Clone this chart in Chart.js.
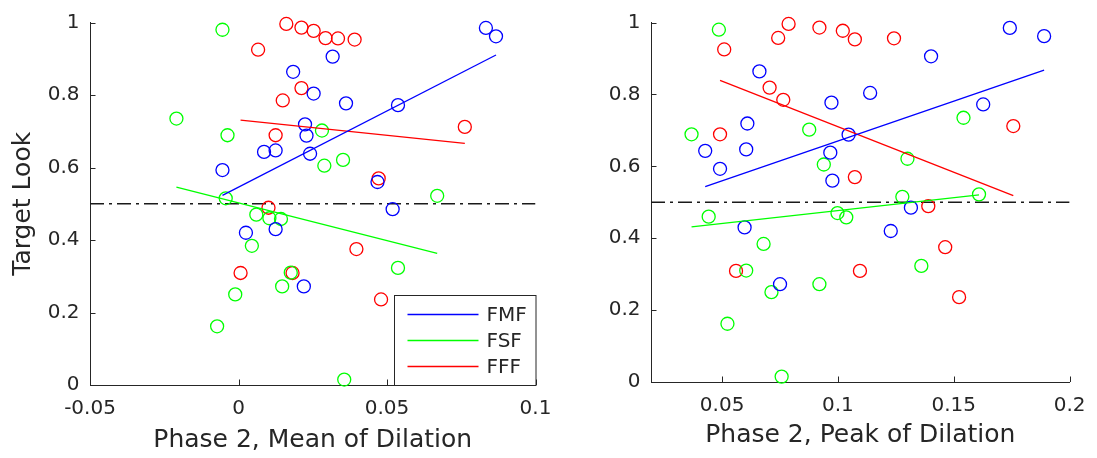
<!DOCTYPE html>
<html>
<head>
<meta charset="utf-8">
<script src="https://cdn.jsdelivr.net/npm/chart.js@4.4.1/dist/chart.umd.min.js"></script>
<style>
  html, body { margin: 0; padding: 0; background: #ffffff; }
  #wrap { position: relative; width: 1097px; height: 458px; overflow: hidden; background: #ffffff; }
  #meanChart { position: absolute; left: 0; top: 0; }
  #peakChart { position: absolute; left: 600px; top: 0; }
</style>
</head>
<body>
<div id="wrap">
  <canvas id="meanChart" width="600" height="458"></canvas>
  <canvas id="peakChart" width="497" height="458"></canvas>
</div>
<script>
// Groups, in legend order
const groupNames = ['FMF', 'FSF', 'FFF'];
const groupColors = ['#0000ff', '#00ff00', '#ff0000'];

// FMF subjects: target look, mean dilation, peak dilation (phase 2)
const fmfLook = [0.985, 0.962, 0.906, 0.864, 0.804, 0.777, 0.772, 0.719, 0.688, 0.643, 0.647, 0.638, 0.593, 0.560, 0.485, 0.430, 0.420, 0.272];
const fmfMean = [0.0833, 0.0867, 0.0317, 0.0184, 0.0253, 0.0362, 0.0537, 0.0224, 0.0229, 0.0086, 0.0125, 0.0241, -0.0054, 0.0468, 0.0519, 0.0125, 0.0025, 0.0220];
const fmfPeak = [0.1742, 0.1890, 0.1402, 0.0661, 0.1139, 0.0972, 0.1627, 0.0609, 0.1046, 0.0427, 0.0604, 0.0967, 0.0491, 0.0976, 0.1315, 0.0597, 0.1228, 0.0750];

// FSF subjects
const fsfLook = [0.980, 0.735, 0.689, 0.702, 0.605, 0.621, 0.522, 0.515, 0.470, 0.460, 0.458, 0.384, 0.310, 0.272, 0.250, 0.162, 0.323, 0.015];
const fsfMean = [-0.0054, -0.0209, -0.0037, 0.0281, 0.0289, 0.0352, 0.0669, -0.0043, 0.0060, 0.0104, 0.0143, 0.0045, 0.0176, 0.0147, -0.0011, -0.0072, 0.0537, 0.0356];
const fsfPeak = [0.0486, 0.1542, 0.0368, 0.0876, 0.0939, 0.1300, 0.1609, 0.1278, 0.0998, 0.0442, 0.1036, 0.0679, 0.0604, 0.0920, 0.0713, 0.0523, 0.1360, 0.0757];

// FFF subjects
const fffLook = [0.996, 0.986, 0.977, 0.957, 0.956, 0.953, 0.925, 0.819, 0.785, 0.689, 0.712, 0.570, 0.489, 0.375, 0.309, 0.309, 0.236];
const fffMean = [0.0161, 0.0212, 0.0253, 0.0293, 0.0335, 0.0391, 0.0066, 0.0212, 0.0149, 0.0125, 0.0762, 0.0472, 0.0101, 0.0397, 0.0007, 0.0182, 0.0480];
const fffPeak = [0.0787, 0.0920, 0.1021, 0.0742, 0.1242, 0.1073, 0.0509, 0.0705, 0.0764, 0.0491, 0.1757, 0.1073, 0.1390, 0.1463, 0.0560, 0.1095, 0.1523];

// Axis ticks and limits
const lookTicks = [0, 0.2, 0.4, 0.6, 0.8, 1];
const meanTicks = [-0.05, 0, 0.05, 0.1];
const peakTicks = [0.05, 0.1, 0.15, 0.2];
const lookRange = [0, 1];
const meanRange = [-0.05, 0.1];
const peakRange = [0.0193, 0.2];
const chanceLevel = 0.5;

const looks = [fmfLook, fsfLook, fffLook];
const axisInk = '#262626';
const fontFamily = "'DejaVu Sans', 'Liberation Sans', sans-serif";
Chart.defaults.font.family = fontFamily;
Chart.defaults.color = axisInk;

function toPoints(xs, ys) {
  return xs.map((x, i) => ({ x: x, y: ys[i] }));
}

// Least-squares line over the x extent of a group
function fitLine(xs, ys) {
  const n = xs.length;
  const mx = xs.reduce((a, b) => a + b, 0) / n;
  const my = ys.reduce((a, b) => a + b, 0) / n;
  let sxy = 0, sxx = 0;
  for (let i = 0; i < n; i++) {
    sxy += (xs[i] - mx) * (ys[i] - my);
    sxx += (xs[i] - mx) * (xs[i] - mx);
  }
  const slope = sxy / sxx;
  const x0 = Math.min(...xs), x1 = Math.max(...xs);
  return [{ x: x0, y: my + slope * (x0 - mx) }, { x: x1, y: my + slope * (x1 - mx) }];
}

function fmt(v) {
  return String(Number(v.toFixed(4)));
}

// Inward tick marks and the boxed key
const axisDecor = {
  id: 'axisDecor',
  afterDraw(chart, args, opts) {
    const ctx = chart.ctx;
    const area = chart.chartArea;
    const xs = chart.scales.x, ys = chart.scales.y;
    ctx.save();
    ctx.strokeStyle = axisInk;
    ctx.lineWidth = 1;
    ctx.beginPath();
    xs.ticks.forEach(t => {
      const p = Math.round(xs.getPixelForValue(t.value)) + 0.5;
      ctx.moveTo(p, area.bottom);
      ctx.lineTo(p, area.bottom - 5.5);
    });
    ys.ticks.forEach(t => {
      const p = Math.round(ys.getPixelForValue(t.value)) + 0.5;
      ctx.moveTo(area.left, p);
      ctx.lineTo(area.left + 5.5, p);
    });
    ctx.stroke();

    if (opts.key) {
      const w = 141.5, h = 90;
      const bx = Math.round(area.right - w) + 0.5;
      const by = Math.round(area.bottom - h) + 0.5;
      ctx.fillStyle = '#ffffff';
      ctx.fillRect(bx, by, w, h);
      ctx.strokeStyle = axisInk;
      ctx.lineWidth = 1;
      ctx.strokeRect(bx, by, w, h);
      const entries = chart.data.datasets.filter(d => d.inKey);
      ctx.font = '20px ' + fontFamily;
      ctx.textBaseline = 'middle';
      ctx.textAlign = 'left';
      entries.forEach((d, i) => {
        const ry = by + 19 + i * 26;
        ctx.strokeStyle = d.borderColor;
        ctx.lineWidth = 1.3;
        ctx.beginPath();
        ctx.moveTo(bx + 13, ry);
        ctx.lineTo(bx + 84, ry);
        ctx.stroke();
        ctx.fillStyle = axisInk;
        ctx.fillText(d.label, bx + 92, ry + 1);
      });
    }
    ctx.restore();
  }
};

function makePanel(canvasId, xSets, cfg) {
  const datasets = [];
  groupNames.forEach((name, g) => {
    datasets.push({
      label: name,
      data: toPoints(xSets[g], looks[g]),
      showLine: false,
      pointStyle: 'circle',
      pointRadius: 6.5,
      pointHoverRadius: 6.5,
      pointBorderWidth: 1.3,
      pointBorderColor: groupColors[g],
      pointBackgroundColor: 'rgba(0,0,0,0)',
      borderColor: groupColors[g],
      backgroundColor: 'rgba(0,0,0,0)',
      clip: false,
      order: 2
    });
  });
  groupNames.forEach((name, g) => {
    datasets.push({
      label: name,
      inKey: true,
      data: fitLine(xSets[g], looks[g]),
      showLine: true,
      borderColor: groupColors[g],
      borderWidth: 1.3,
      pointRadius: 0,
      pointHoverRadius: 0,
      order: 1
    });
  });
  datasets.push({
    label: 'chance',
    data: [{ x: cfg.range[0], y: chanceLevel }, { x: cfg.range[1], y: chanceLevel }],
    showLine: true,
    borderColor: '#1a1a1a',
    borderWidth: 1.5,
    borderDash: [14, 5, 3, 5],
    pointRadius: 0,
    pointHoverRadius: 0,
    order: 3
  });

  return new Chart(document.getElementById(canvasId), {
    type: 'scatter',
    data: { datasets: datasets },
    plugins: [axisDecor],
    options: {
      responsive: false,
      animation: false,
      events: [],
      layout: { padding: { left: 0, top: 16, right: cfg.padRight, bottom: 0 } },
      plugins: {
        legend: { display: false },
        tooltip: { enabled: false },
        axisDecor: { key: cfg.key }
      },
      scales: {
        x: {
          type: 'linear',
          min: cfg.range[0],
          max: cfg.range[1],
          afterBuildTicks: s => { s.ticks = cfg.ticks.map(v => ({ value: v })); },
          afterFit: s => { s.height = cfg.xAxisHeight; },
          grid: { display: false, drawTicks: false },
          border: { display: true, color: axisInk, width: 1 },
          ticks: {
            padding: 11.5,
            maxRotation: 0,
            autoSkip: false,
            color: axisInk,
            font: { size: 20, family: fontFamily },
            callback: v => fmt(v)
          },
          title: {
            display: true,
            text: cfg.xTitle,
            color: axisInk,
            font: { size: 25, family: fontFamily },
            padding: { top: 0, bottom: cfg.xTitlePad }
          }
        },
        y: {
          type: 'linear',
          min: lookRange[0],
          max: lookRange[1],
          afterBuildTicks: s => { s.ticks = lookTicks.map(v => ({ value: v })); },
          afterFit: s => { s.width = cfg.yAxisWidth; },
          grid: { display: false, drawTicks: false },
          border: { display: true, color: axisInk, width: 1 },
          ticks: {
            padding: 10.5,
            autoSkip: false,
            color: axisInk,
            font: { size: 20, family: fontFamily },
            callback: v => fmt(v)
          },
          title: {
            display: !!cfg.yTitle,
            text: cfg.yTitle || '',
            color: axisInk,
            font: { size: 25, family: fontFamily },
            padding: { top: 8.7, bottom: 0 }
          }
        }
      }
    }
  });
}

makePanel('meanChart', [fmfMean, fsfMean, fffMean], {
  range: meanRange,
  ticks: meanTicks,
  xTitle: 'Phase 2, Mean of Dilation',
  yTitle: 'Target Look',
  yAxisWidth: 90,
  xAxisHeight: 73,
  padRight: 64.5,
  xTitlePad: 2.2,
  key: true
});

makePanel('peakChart', [fmfPeak, fsfPeak, fffPeak], {
  range: peakRange,
  ticks: peakTicks,
  xTitle: 'Phase 2, Peak of Dilation',
  yTitle: null,
  yAxisWidth: 51,
  xAxisHeight: 76,
  padRight: 20,
  xTitlePad: 7.2,
  key: false
});
</script>
</body>
</html>
